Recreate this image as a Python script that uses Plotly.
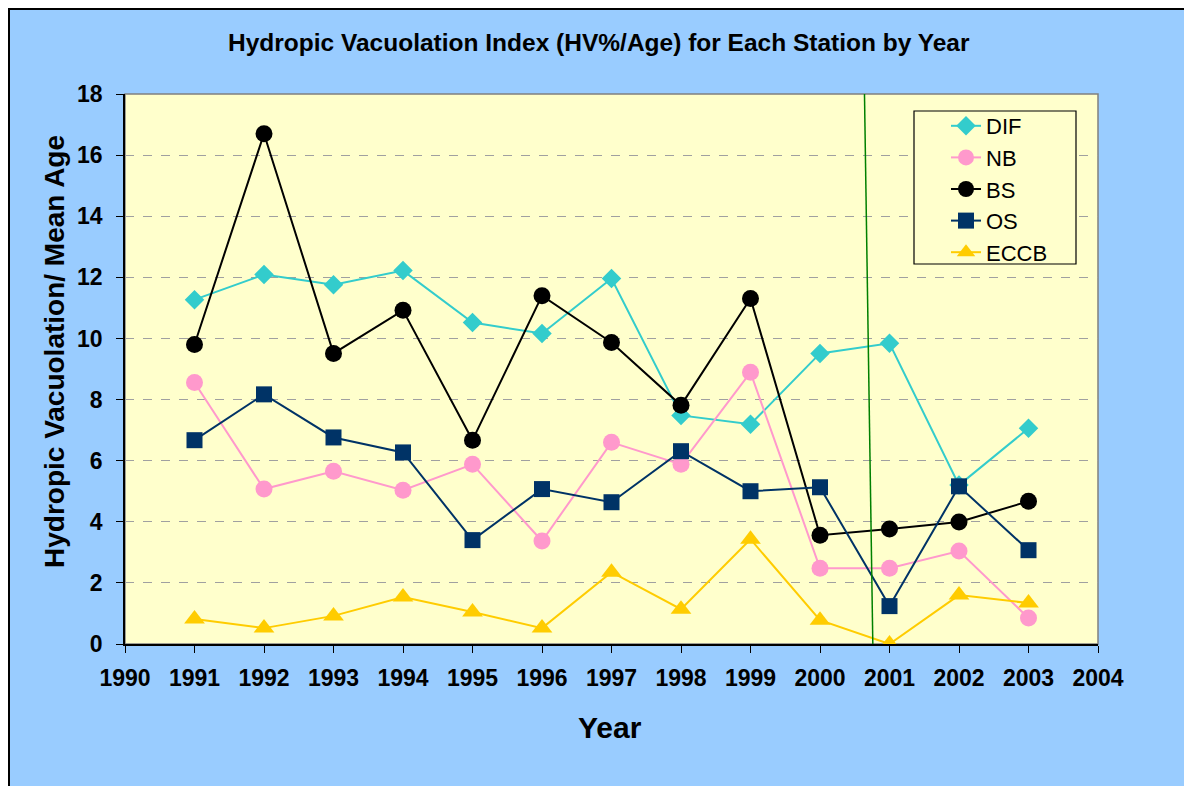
import plotly.graph_objects as go

years = [1991, 1992, 1993, 1994, 1995, 1996, 1997, 1998, 1999, 2000, 2001, 2002, 2003]
dif = [11.27, 12.09, 11.76, 12.22, 10.52, 10.16, 11.96, 7.48, 7.19, 9.51, 9.84, 5.2, 7.06]
nb = [8.56, 5.07, 5.65, 5.03, 5.88, 3.37, 6.6, 5.88, 8.89, 2.48, 2.48, 3.04, 0.85]
bs = [9.8, 16.7, 9.51, 10.92, 6.67, 11.4, 9.87, 7.81, 11.31, 3.56, 3.76, 3.99, 4.67]
os_ = [6.67, 8.17, 6.76, 6.27, 3.4, 5.07, 4.64, 6.31, 5.0, 5.13, 1.24, 5.16, 3.07]
eccb = [0.82, 0.52, 0.92, 1.54, 1.05, 0.52, 2.35, 1.14, 3.43, 0.78, 0.0, 1.6, 1.34]

FONT = "Liberation Sans, Arial, sans-serif"

fig = go.Figure()
series = [
    ("DIF", dif, "#33CCCC", "diamond", 15),
    ("NB", nb, "#FF99CC", "circle", 17),
    ("BS", bs, "#000000", "circle", 17),
    ("OS", os_, "#003366", "square", 16),
    ("ECCB", eccb, "#FFCC00", "triangle-up", 18),
]
for name, vals, col, sym, sz in series:
    fig.add_trace(go.Scatter(
        x=years, y=vals, name=name, mode="lines+markers",
        line=dict(color=col, width=2),
        marker=dict(symbol=sym, size=sz, color=col, line=dict(width=0)),
    ))

# page offset (body margin) of 8px
OFF = 8
W, H = 1192 - OFF, 786 - OFF
L, T = 125 - OFF, 94 - OFF
R = W - (1098 - OFF)
B = H - (644 - OFF)
pw, ph = W - L - R, H - T - B

def px(x):
    return (x - OFF - L) / pw

def py(y):
    return (H - B - (y - OFF)) / ph

shapes = [
    dict(type="rect", xref="paper", yref="paper", x0=px(9), x1=px(1190), y0=py(800), y1=py(9),
         fillcolor="#99CCFF", line=dict(color="#000000", width=2), layer="below"),
    dict(type="rect", xref="paper", yref="paper", x0=0, x1=1, y0=0, y1=1,
         fillcolor="#FFFFCC", line=dict(color="#808080", width=1.5), layer="below"),
    dict(type="line", xref="x", yref="y", x0=2000.64, x1=2000.76, y0=18, y1=0,
         line=dict(color="#008000", width=1.5)),
    dict(type="rect", xref="paper", yref="paper", x0=px(914), x1=px(1076), y0=py(264), y1=py(111),
         fillcolor="#FFFFCC", line=dict(color="#000000", width=1.2), layer="above"),
]

fig.update_layout(
    width=W, height=H,
    margin=dict(l=L, r=R, t=T, b=B),
    paper_bgcolor="#FFFFFF",
    plot_bgcolor="rgba(0,0,0,0)",
    font=dict(family=FONT, color="#000000"),
    showlegend=True,
    legend=dict(
        x=px(946), y=py(105), xanchor="left", yanchor="top",
        bgcolor="rgba(0,0,0,0)", borderwidth=0,
        font=dict(size=22, family=FONT), tracegroupgap=0,
    ),
    shapes=shapes,
    annotations=[
        dict(text="<b>Hydropic Vacuolation Index (HV%/Age) for Each Station by Year</b>",
             xref="paper", yref="paper", x=px(599), y=py(42), showarrow=False,
             font=dict(size=24.5, family=FONT), xanchor="center", yanchor="middle"),
        dict(text="<b>Year</b>", xref="paper", yref="paper", x=px(610), y=py(727),
             showarrow=False, font=dict(size=30, family=FONT), xanchor="center", yanchor="middle"),
        dict(text="<b>Hydropic Vacuolation/ Mean Age</b>", xref="paper", yref="paper",
             x=px(54), y=py(352), showarrow=False, textangle=-90,
             font=dict(size=28, family=FONT), xanchor="center", yanchor="middle"),
    ],
)
fig.update_xaxes(
    range=[1990, 2004], dtick=1, tick0=1990, showgrid=False, zeroline=False,
    showline=True, linecolor="#000000", linewidth=1.5,
    ticks="outside", ticklen=7, tickcolor="#000000", ticklabelstandoff=6,
    tickfont=dict(size=23, family=FONT), tickprefix="<b>", ticksuffix="</b>",
)
fig.update_yaxes(
    range=[0, 18], dtick=2, tick0=0, showgrid=True, gridcolor="#A0A0A0", griddash="dash",
    gridwidth=1, zeroline=False,
    showline=True, linecolor="#000000", linewidth=1.5,
    ticks="outside", ticklen=7, tickcolor="#000000", ticklabelstandoff=9,
    tickfont=dict(size=23, family=FONT), tickprefix="<b>", ticksuffix="</b>",
)

fig.write_html("out.html")
